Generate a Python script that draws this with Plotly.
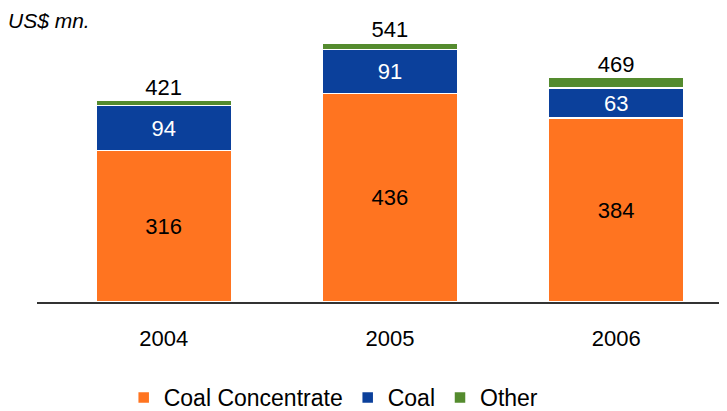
import plotly.graph_objects as go

years = ["2004", "2005", "2006"]
coal_concentrate = [316, 436, 384]
coal = [94, 91, 63]
other = [11, 14, 22]
totals = [421, 541, 469]

font_family = "Liberation Sans, Arial, sans-serif"

fig = go.Figure()
fig.add_trace(go.Bar(
    name="Coal Concentrate", x=years, y=coal_concentrate,
    marker=dict(color="#FF7420", line=dict(color="white", width=1.5)),
    text=coal_concentrate, textposition="inside", insidetextanchor="middle",
    textangle=0, constraintext="none",
    textfont=dict(color="black", size=22, family=font_family),
))
fig.add_trace(go.Bar(
    name="Coal", x=years, y=coal,
    marker=dict(color="#0B409B", line=dict(color="white", width=1.5)),
    text=coal, textposition="inside", insidetextanchor="middle",
    textangle=0, constraintext="none",
    textfont=dict(color="white", size=22, family=font_family),
))
fig.add_trace(go.Bar(
    name="Other", x=years, y=other,
    marker=dict(color="#548B2E", line=dict(color="white", width=1.5)),
    textposition="none",
))
fig.add_trace(go.Scatter(
    x=years, y=totals, mode="text", text=[str(t) for t in totals],
    textposition="top center", showlegend=False,
    textfont=dict(color="black", size=22, family=font_family),
    cliponaxis=False,
))

fig.update_layout(
    barmode="stack",
    bargap=0.4,
    width=727, height=411,
    margin=dict(l=29, r=8, t=12, b=117),
    paper_bgcolor="white", plot_bgcolor="white",
    font=dict(family=font_family, size=22, color="black"),
    showlegend=True,
    legend=dict(orientation="h", xref="container", yref="container",
                xanchor="center", x=0.448, yanchor="bottom", y=0,
                font=dict(size=23), itemwidth=30, traceorder="normal",
                borderwidth=0, bgcolor="rgba(0,0,0,0)"),
    xaxis=dict(type="category", range=[-0.56, 2.49], showline=True, linecolor="#333333",
               linewidth=1.5, ticks="", ticklabelstandoff=16,
               tickfont=dict(size=22)),
    yaxis=dict(range=[0, 589], visible=False, showgrid=False, zeroline=False),
    uniformtext=dict(mode=False),
)
fig.add_annotation(text="<i>US$ mn.</i>", xref="paper", yref="paper", x=-0.045, y=1.0,
                   xanchor="left", yanchor="middle", showarrow=False,
                   font=dict(size=21, color="black", family=font_family))

fig.write_html("out.html")
